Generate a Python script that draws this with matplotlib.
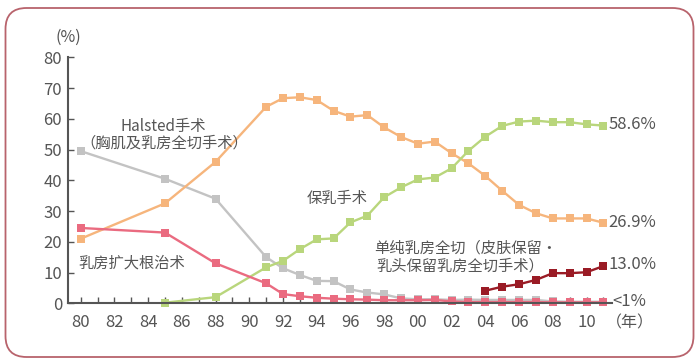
import matplotlib
matplotlib.use("Agg")
import matplotlib.pyplot as plt
from matplotlib.patches import FancyBboxPatch

plt.rcParams['font.family'] = ['Noto Sans CJK SC', 'DejaVu Sans']

years = [1980, 1985, 1988, 1991, 1992, 1993, 1994, 1995, 1996, 1997, 1998, 1999,
         2000, 2001, 2002, 2003, 2004, 2005, 2006, 2007, 2008, 2009, 2010, 2011]

modified_radical = [21.0, 32.5, 46.0, 63.9, 66.7, 67.0, 66.1, 62.6, 60.7, 61.2, 57.2, 54.1,
                    51.9, 52.6, 48.8, 45.5, 41.4, 36.6, 32.0, 29.3, 27.6, 27.6, 27.6, 26.2]
halsted = [49.5, 40.5, 34.0, 15.0, 11.4, 9.2, 7.3, 7.2, 4.5, 3.5, 2.9, 1.6,
           1.3, 1.3, 1.1, 1.2, 1.1, 1.1, 1.1, 1.1, 0.6, 0.5, 0.5, 0.5]
extended_radical = [24.5, 23.0, 13.0, 6.5, 3.0, 2.3, 1.8, 1.5, 1.3, 1.2, 1.0, 1.0,
                    1.0, 1.1, 0.6, 0.4, 0.4, 0.4, 0.4, 0.4, 0.3, 0.3, 0.3, 0.3]
bcs_years = years[1:]
bcs = [0.2, 2.0, 11.7, 13.8, 17.6, 20.8, 21.1, 26.3, 28.5, 34.5, 37.7,
       40.3, 40.9, 43.9, 49.6, 54.2, 57.7, 59.1, 59.4, 58.9, 58.9, 58.2, 57.8]
simple_years = [2004, 2005, 2006, 2007, 2008, 2009, 2010, 2011]
simple = [4.1, 5.4, 6.2, 7.6, 9.8, 9.8, 10.1, 12.1]

end_labels = ["58.6%", "26.9%", "13.0%", "<1%"]
xtick_years = list(range(1980, 2011, 2))
xtick_labels = ["%02d" % (y % 100) for y in xtick_years]

fig = plt.figure(figsize=(7.0, 3.62), dpi=100)
border = FancyBboxPatch((5.5/700, 5/362), 688/700, 349/362,
                        boxstyle="round,pad=0,rounding_size=0.03",
                        transform=fig.transFigure, fill=False,
                        edgecolor='#b8636c', linewidth=1.3, mutation_aspect=700/362)
fig.patches.append(border)

ax = fig.add_axes([67.7/700, 1 - 303.3/362, (611.8 - 67.7)/700, (303.3 - 57.3)/362])
ax.set_xlim(1979.23, 2011.5)
ax.set_ylim(0, 80)

txt = '#555555'
kw = dict(marker='s', linewidth=1.7, clip_on=False, markeredgewidth=0)
ax.plot(years, halsted, color='#c3c3c3', markersize=5.5, **kw)
ax.plot(years, modified_radical, color='#f6b57c', markersize=5.5, **kw)
ax.plot(bcs_years, bcs, color='#b9d67c', markersize=5.5, **kw)
ax.plot(years, extended_radical, color='#ea6b80', markersize=6, **kw)
ax.plot(simple_years, simple, color='#9a1b25', markersize=6, **kw)

for s in ['top', 'right']:
    ax.spines[s].set_visible(False)
for s in ['left', 'bottom']:
    ax.spines[s].set_color('#555555')
    ax.spines[s].set_linewidth(1.5)

ax.set_xticks(xtick_years)
ax.set_xticklabels(xtick_labels)
ax.set_xticks(range(1980, 2012), minor=True)
ax.set_yticks(range(0, 81, 10))
ax.tick_params(axis='x', which='both', direction='in', length=4, width=1, color='#555555',
               labelsize=12, labelcolor=txt, pad=8)
ax.tick_params(axis='y', direction='in', length=4, width=1, color='#555555',
               labelsize=12, labelcolor=txt, pad=4)

fs = 11
fig.text(68/700, 1 - 37/362, "(%)", fontsize=11.5, color=txt, ha='center', va='center')

fig.text(163/700, 1 - 126/362, "Halsted手术", fontsize=fs, color=txt, ha='center', va='center')
fig.text(164/700, 1 - 143/362, "（胸肌及乳房全切手术）", fontsize=fs, color=txt, ha='center', va='center')
fig.text(78/700, 1 - 263/362, "乳房扩大根治术", fontsize=fs, color=txt, ha='left', va='center')
fig.text(307/700, 1 - 199/362, "保乳手术", fontsize=fs, color=txt, ha='left', va='center')
fig.text(374/700, 1 - 248/362, "单纯乳房全切（皮肤保留·", fontsize=fs, color=txt, ha='left', va='center')
fig.text(376/700, 1 - 266/362, "乳头保留乳房全切手术）", fontsize=fs, color=txt, ha='left', va='center')

end_y = [bcs[-1] + 0.4, modified_radical[-1], simple[-1] + 0.5, 0.5]
end_dx = [0.28, 0.28, 0.28, 0.55]
for lab, yv, dx in zip(end_labels, end_y, end_dx):
    ax.text(2011 + dx, yv, lab, fontsize=12, color=txt, ha='left', va='center', clip_on=False)
fig.text(606/700, 1 - 323/362, "（年）", fontsize=11.5, color=txt, ha='left', va='center')

fig.savefig("out.png", dpi=100)
